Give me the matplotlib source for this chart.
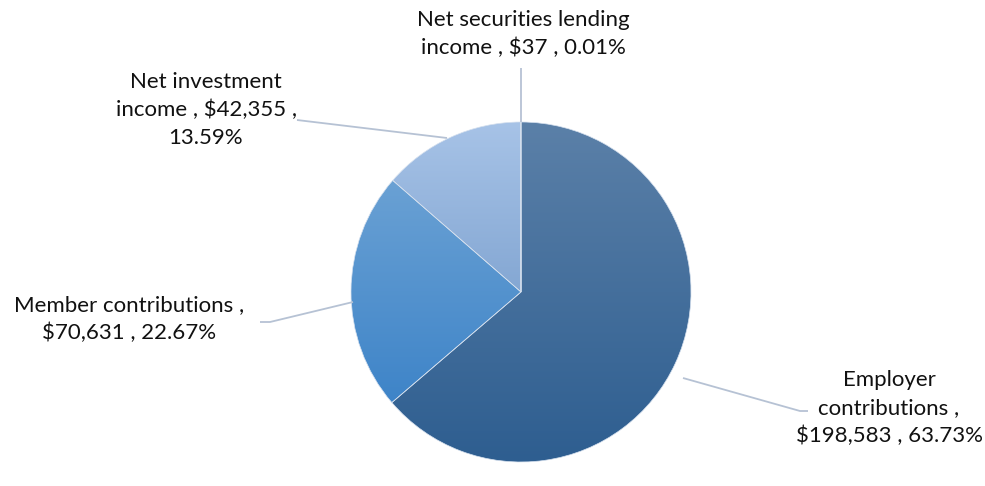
import numpy as np
import matplotlib
matplotlib.use("Agg")
import matplotlib.pyplot as plt
from matplotlib.colors import to_rgb

# 数据
amounts = [198583, 70631, 42355, 37]
label_texts = [
    "Employer\ncontributions ,\n$198,583 , 63.73%",
    "Member contributions ,\n$70,631 , 22.67%",
    "Net investment\nincome , $42,355 ,\n13.59%",
    "Net securities lending\nincome , $37 , 0.01%",
]

# 渐变色 (上 -> 下)
grad_colors = [("#5b80a8", "#2e5e90"), ("#6aa1d4", "#3e84c8"),
               ("#a7c3e7", "#84a7d3"), ("#a7c3e7", "#84a7d3")]

W, H = 985, 486
cx, cy, R = 521, H - 292, 170

fig = plt.figure(figsize=(W / 100, H / 100), dpi=100)
ax = fig.add_axes([0, 0, 1, 1])

wedges, _ = ax.pie(amounts, center=(cx, cy), radius=R, startangle=90,
                   counterclock=False, frame=True,
                   wedgeprops=dict(edgecolor="#d5e0ee", linewidth=0.5))

for w, (c_top, c_bot) in zip(wedges, grad_colors):
    w.set_facecolor("none")
    ext = w.get_path().get_extents()
    t = np.linspace(0, 1, 256)[:, None, None]
    img = (1 - t) * np.array(to_rgb(c_top)) + t * np.array(to_rgb(c_bot))
    im = ax.imshow(img, extent=(ext.x0, ext.x1, ext.y0, ext.y1),
                   aspect="auto", interpolation="bilinear", zorder=1)
    im.set_clip_path(w)
    w.set_zorder(2)

ax.set_xlim(0, W)
ax.set_ylim(0, H)
ax.set_aspect("equal")
ax.axis("off")

# 标签位置与引导线 (像素坐标, y 向下)
label_pos = [(889, 408), (129, 319), (206, 110), (523, 34)]
line_pts = [
    [(683, 378), (800, 411), (808, 411)],
    [(353, 302), (270, 322), (260, 322)],
    [(447, 138), (297, 120)],
    [(521, 122), (521, 68)],
]

lc = "#b6c2d4"
for pts in line_pts:
    xs = [p[0] for p in pts]
    ys = [H - p[1] for p in pts]
    ax.plot(xs, ys, color=lc, lw=1.3, zorder=3, solid_capstyle="butt")

for (x, y), txt in zip(label_pos, label_texts):
    ax.text(x, H - y, txt, ha="center", va="center", fontsize=16,
            family=["Lato", "DejaVu Sans"], color="#111111",
            linespacing=1.5, zorder=4)

fig.savefig("out.png", dpi=100)
